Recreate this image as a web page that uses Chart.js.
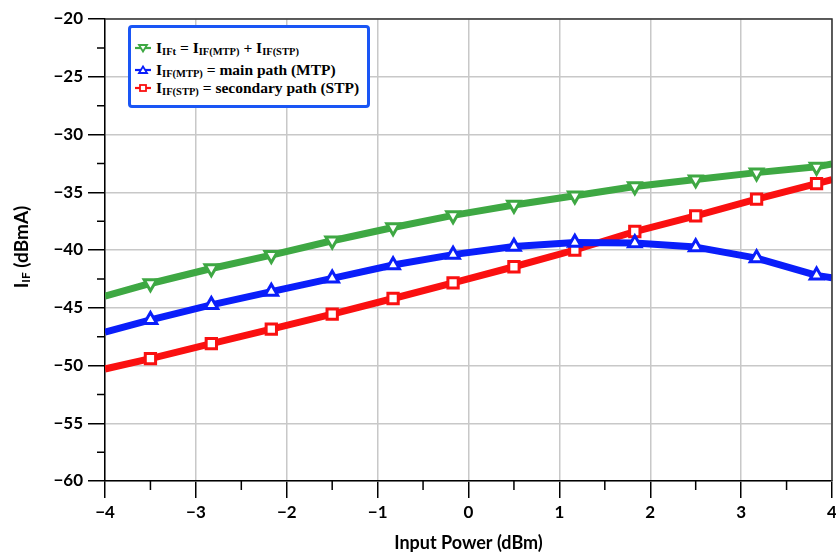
<!DOCTYPE html>
<html>
<head>
<meta charset="utf-8">
<script src="https://cdn.jsdelivr.net/npm/chart.js@4.4.0/dist/chart.umd.min.js"></script>
<style>
html,body{margin:0;padding:0;background:#fff;}
#wrap{position:relative;width:836px;height:554px;overflow:hidden;}
#chart{position:absolute;left:0;top:0;}
#legend{position:absolute;left:128px;top:25px;width:236px;height:77px;border:3px solid #1a56f5;border-radius:4px;background:#fff;
  font-family:"Liberation Serif","Times New Roman",serif;font-weight:bold;font-size:15.5px;color:#000;}
.row{position:absolute;left:4px;height:18px;white-space:nowrap;display:flex;align-items:center;}
.row svg{margin-right:5px;}
.sub{font-size:10.5px;position:relative;top:1.5px;}
#ytitle{position:absolute;left:-79px;top:235px;width:200px;height:24px;line-height:24px;text-align:center;
  transform:rotate(-90deg);transform-origin:50% 50%;font-family:Lato,"Liberation Sans",sans-serif;font-weight:bold;font-size:19px;color:#000;white-space:nowrap;}
#ytitle .s{font-size:12px;position:relative;top:2px;}
</style>
</head>
<body>
<div id="wrap">
<canvas id="chart" width="836" height="554"></canvas>
<div id="legend"></div>
<div id="ytitle">I<span class="s">IF</span> (dBmA)</div>
</div>
<script>
// ---- data ----
const xValues      = [-4, -3.5, -2.83, -2.17, -1.5, -0.83, -0.17, 0.5, 1.17, 1.83, 2.5, 3.17, 3.83, 4];
const totalIF      = [-44.0, -42.9, -41.6, -40.45, -39.2, -38.05, -37.0, -36.1, -35.3, -34.5, -33.9, -33.3, -32.8, -32.55];
const mainPathIF   = [-47.1, -46.05, -44.75, -43.6, -42.45, -41.3, -40.4, -39.7, -39.35, -39.4, -39.75, -40.7, -42.2, -42.4];
const secondaryIF  = [-50.3, -49.4, -48.1, -46.85, -45.55, -44.2, -42.85, -41.45, -40.0, -38.4, -37.05, -35.6, -34.25, -33.9];
const seriesNames  = ['IIFt = IIF(MTP) + IIF(STP)', 'IIF(MTP) = main path (MTP)', 'IIF(STP) = secondary path (STP)'];
const xTickValues  = [-4, -3, -2, -1, 0, 1, 2, 3, 4];
const yTickValues  = [-60, -55, -50, -45, -40, -35, -30, -25, -20];
const xAxisTitle   = 'Input Power (dBm)';

const GREEN = '#3ea843', BLUE = '#0a1efa', RED = '#fa1010';

function pts(arr){ return xValues.map((x,i)=>({x:x, y:arr[i]})); }
function markerRadius(ctx){ return (ctx.dataIndex===0 || ctx.dataIndex===xValues.length-1) ? 0 : 7.3; }
function fmt(v){ return v<0 ? '\u2212'+Math.abs(v) : String(v); }

const datasets = [
  {label:seriesNames[0], data:pts(totalIF), borderColor:GREEN, pointStyle:'triangle', rotation:180},
  {label:seriesNames[1], data:pts(mainPathIF), borderColor:BLUE, pointStyle:'triangle', rotation:0},
  {label:seriesNames[2], data:pts(secondaryIF), borderColor:RED, pointStyle:'rect', rotation:0}
].map(d=>Object.assign(d,{
  borderWidth:7, pointBorderColor:d.borderColor, pointBackgroundColor:'#fff',
  pointBorderWidth:3, pointRadius:markerRadius, pointHoverRadius:markerRadius, tension:0,
  borderJoinStyle:'round'
}));

const framePlugin = {
  id:'frame',
  afterDraw(chart){
    const c = chart.ctx, a = chart.chartArea;
    const xs = chart.scales.x, ys = chart.scales.y;
    c.save();
    c.strokeStyle = '#333'; c.lineWidth = 1.5;
    c.beginPath();
    c.moveTo(a.left, a.top); c.lineTo(a.right, a.top); c.lineTo(a.right, a.bottom);
    c.stroke();
    c.strokeStyle = '#000';
    c.beginPath();
    for (let i=0;i<xTickValues.length-1;i++){
      const px = xs.getPixelForValue((xTickValues[i]+xTickValues[i+1])/2);
      c.moveTo(px, a.bottom); c.lineTo(px, a.bottom+9);
    }
    for (let i=0;i<yTickValues.length-1;i++){
      const py = ys.getPixelForValue((yTickValues[i]+yTickValues[i+1])/2);
      c.moveTo(a.left-8, py); c.lineTo(a.left, py);
    }
    c.stroke();
    c.restore();
  }
};

new Chart(document.getElementById('chart'), {
  type:'line',
  data:{datasets:datasets},
  options:{
    responsive:false, animation:false, devicePixelRatio:1,
    layout:{padding:{left:0, right:4, top:19, bottom:0}},
    plugins:{legend:{display:false}, tooltip:{enabled:false}},
    scales:{
      x:{
        type:'linear', min:xTickValues[0], max:xTickValues[xTickValues.length-1],
        afterBuildTicks(s){ s.ticks = xTickValues.map(v=>({value:v})); },
        ticks:{callback:fmt, color:'#000', padding:4, maxRotation:0, autoSkip:false,
               font:{family:'Lato', weight:'bold', size:17}},
        grid:{color:'#c8c8c8', lineWidth:1.5, tickLength:17, tickColor:'#000', tickWidth:1.5},
        border:{display:true, color:'#000', width:1.5},
        title:{display:true, text:xAxisTitle, color:'#000', padding:{top:0,bottom:0},
               font:{family:'Lato', weight:'bold', size:18}},
        afterFit(s){ s.height = 73; s.paddingLeft = 0; s.paddingRight = 0; }
      },
      y:{
        type:'linear', min:yTickValues[0], max:yTickValues[yTickValues.length-1],
        afterBuildTicks(s){ s.ticks = yTickValues.map(v=>({value:v})); },
        ticks:{callback:fmt, color:'#000', padding:5, autoSkip:false,
               font:{family:'Lato', weight:'bold', size:17}},
        grid:{color:'#c8c8c8', lineWidth:1.5, tickLength:17, tickColor:'#000', tickWidth:1.5},
        border:{display:true, color:'#000', width:1.5},
        afterFit(s){ s.width = 105; s.paddingTop = 0; s.paddingBottom = 0; }
      }
    }
  },
  plugins:[framePlugin]
});

// ---- HTML legend with subscripts ----
function richLabel(name){
  return name.replace(/I(IF(?:t|\(MTP\)|\(STP\)))/g, 'I<span class="sub">$1</span>');
}
function icon(ds){
  const col = ds.borderColor;
  let m;
  if (ds.pointStyle==='rect') m = '<rect x="5" y="3" width="6" height="6" fill="#fff" stroke="'+col+'" stroke-width="1.8"/>';
  else if (ds.rotation===180) m = '<polygon points="4,3 12,3 8,9.5" fill="#fff" stroke="'+col+'" stroke-width="1.8"/>';
  else m = '<polygon points="4,9 12,9 8,2.5" fill="#fff" stroke="'+col+'" stroke-width="1.8"/>';
  return '<svg width="16" height="12" viewBox="0 0 16 12"><line x1="0" y1="6" x2="16" y2="6" stroke="'+col+'" stroke-width="2.2"/>'+m+'</svg>';
}
const rowTops = [11, 33, 51];
const lg = document.getElementById('legend');
datasets.forEach((ds,i)=>{
  const r = document.createElement('div');
  r.className = 'row';
  r.style.top = rowTops[i]+'px';
  r.innerHTML = icon(ds) + '<span>'+richLabel(ds.label)+'</span>';
  lg.appendChild(r);
});
</script>
</body>
</html>
